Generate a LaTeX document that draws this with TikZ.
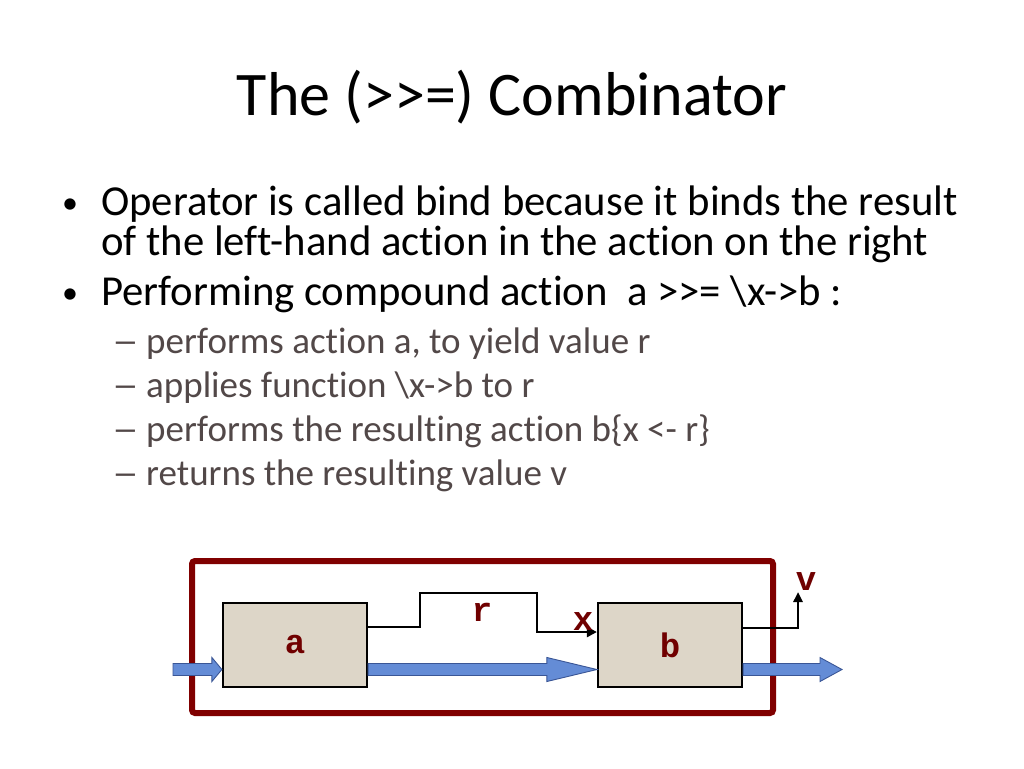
\documentclass[tikz,border=0pt]{standalone}
\usepackage{fontspec}
\setmainfont{Carlito}[Ligatures=NoCommon]
\newfontfamily\codefont{Liberation Mono}
\usetikzlibrary{calc,arrows.meta}
\definecolor{framered}{RGB}{128,0,0}
\definecolor{labelred}{RGB}{112,0,0}
\definecolor{tan}{RGB}{221,214,200}
\definecolor{fatfill}{RGB}{100,140,214}
\definecolor{fatline}{RGB}{58,86,150}
\definecolor{subgray}{RGB}{82,72,72}
\newcommand\fatarr[3]{\filldraw[fat] ($#1+(0,-6)$) -- ($#2+(-#3,-6)$) -- ($#2+(-#3,-12)$) -- #2 -- ($#2+(-#3,12)$) -- ($#2+(-#3,6)$) -- ($#1+(0,6)$) -- cycle;}
\begin{document}
\begin{tikzpicture}[x=1pt,y=-1pt,
  txt/.style={anchor=base west,inner sep=0pt,font=\fontsize{42.7}{48}\selectfont},
  dot/.style={anchor=base,inner sep=0pt,font=\fontsize{32}{36}\selectfont},
  sub/.style={anchor=base west,inner sep=0pt,text=subgray,font=\fontsize{37}{42}\selectfont},
  subdash/.style={anchor=base west,inner sep=0pt,text=subgray,font=\fontsize{37}{42}\selectfont},
  box/.style={draw=black,line width=2.2pt,fill=tan,minimum width=144pt,minimum height=84pt,inner sep=0pt,text=labelred,font=\codefont\bfseries\fontsize{34}{38}\selectfont},
  lbl/.style={inner sep=0pt,text=labelred,font=\codefont\bfseries\fontsize{34}{38}\selectfont},
  frame/.style={draw=framered,line width=6pt,rounded corners=3pt,minimum width=581pt,minimum height=152pt,inner sep=0pt},
  wire/.style={draw=black,line width=2.5pt},
  fat/.style={fill=fatfill,draw=fatline,line width=0.9pt,line join=miter}]
\useasboundingbox (0,0) rectangle (1024,768);
\fill[white] (0,0) rectangle (1024,768);
% title
\node[anchor=base,inner sep=0pt,font=\fontsize{62}{70}\selectfont] (title) at (512,115) {The (>{}>=) Combinator};
% bullets
\node[dot] (b1) at (70,213) {•};
\node[txt] (t1) at (101,215) {Operator is called bind because it binds the result};
\node[txt] (t2) at (101,255) {of the left-hand action in the action on the right};
\node[dot] (b2) at (70,303) {•};
\node[txt] (t3) at (101,305) {Performing compound action\ \ a >{}>= \textbackslash x->b :};
\node[subdash] (d1) at (112,353) {\scalebox{1.45}[1]{–}};
\node[sub] (s1) at (146,353) {performs action a, to yield value r};
\node[subdash] (d2) at (112,397) {\scalebox{1.45}[1]{–}};
\node[sub] (s2) at (146,397) {applies function \textbackslash x->b to r};
\node[subdash] (d3) at (112,441) {\scalebox{1.45}[1]{–}};
\node[sub] (s3) at (146,441) {performs the resulting action b\{x <- r\}};
\node[subdash] (d4) at (112,485) {\scalebox{1.45}[1]{–}};
\node[sub] (s4) at (146,485) {returns the resulting value v};
% diagram
\node[frame] (frame) at (482.5,637) {};
\node[box] (a) at (295,645) {a};
\node[box] (b) at (670,645) {b};
\coordinate (in) at (173,669.5);
\coordinate (out) at (842,669.5);
\coordinate (rup) at (420,593);
\coordinate (rdown) at (537,632);
\coordinate (vtip) at (798,592);
\draw[wire,-{Triangle[length=10pt,width=10pt]}] ($(a.east)+(0,-18)$) -| (rup) -| (rdown) -- ($(b.west)+(0,-13)$);
\draw[wire,-{Triangle[length=10pt,width=9pt]}] ($(b.east)+(0,-17)$) -| (vtip);
\fatarr{(in)}{($(a.west)+(0,24.5)$)}{10}
\fatarr{($(a.east)+(0,24.5)$)}{($(b.west)+(0,24.5)$)}{50}
\fatarr{($(b.east)+(0,24.5)$)}{(out)}{22}
\node[lbl] (r) at (482,612) {r};
\node[lbl] (x) at (583,622) {x};
\node[lbl] (v) at (806,582) {v};
\end{tikzpicture}
\end{document}
